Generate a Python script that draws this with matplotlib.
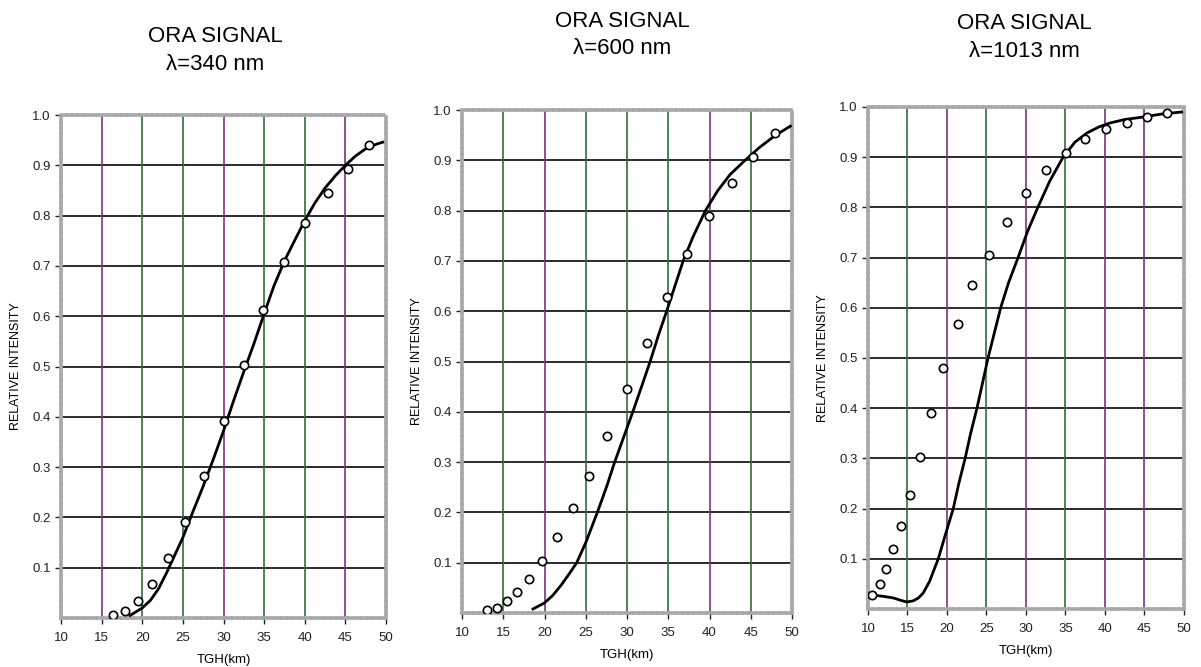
import matplotlib
matplotlib.use('Agg')
import matplotlib.pyplot as plt

plt.rcParams['font.family'] = ['Liberation Sans', 'DejaVu Sans']

# Panel titles
titles = ['ORA SIGNAL', 'ORA SIGNAL', 'ORA SIGNAL']
wavelengths = ['\u03bb=340 nm', '\u03bb=600 nm', '\u03bb=1013 nm']

x340 = [16.4, 17.9, 19.5, 21.2, 23.2, 25.3, 27.6, 30.0, 32.5, 34.9, 37.4, 40.0, 42.8, 45.3, 47.9]
y340 = [0.005, 0.014, 0.034, 0.068, 0.12, 0.19, 0.283, 0.392, 0.503, 0.612, 0.708, 0.785, 0.845, 0.893, 0.94]
x600 = [13.0, 14.2, 15.5, 16.7, 18.1, 19.7, 21.5, 23.5, 25.4, 27.6, 30.0, 32.4, 34.8, 37.3, 39.9, 42.7, 45.3, 47.9]
y600 = [0.006, 0.01, 0.024, 0.042, 0.068, 0.103, 0.151, 0.209, 0.272, 0.352, 0.445, 0.537, 0.628, 0.714, 0.789, 0.855, 0.907, 0.954]
x1013 = [10.5, 11.5, 12.3, 13.2, 14.2, 15.3, 16.6, 18.0, 19.5, 21.4, 23.2, 25.3, 27.6, 30.0, 32.5, 35.1, 37.5, 40.1, 42.8, 45.3, 47.8]
y1013 = [0.028, 0.05, 0.08, 0.12, 0.165, 0.227, 0.303, 0.39, 0.48, 0.568, 0.645, 0.705, 0.771, 0.829, 0.875, 0.908, 0.936, 0.956, 0.968, 0.98, 0.988]

# Model curves (solid line)
cx340 = [18.5, 20.0, 21.0, 22.0, 23.0, 24.0, 25.0, 26.2, 27.5, 28.8, 30.0, 31.2, 32.5, 33.8, 35.0, 36.2, 37.5, 38.8, 40.0, 41.2, 42.5, 43.8, 45.0, 46.2, 47.5, 48.8, 49.6]
cy340 = [0.005, 0.02, 0.035, 0.058, 0.09, 0.125, 0.16, 0.21, 0.262, 0.318, 0.372, 0.43, 0.49, 0.548, 0.605, 0.66, 0.71, 0.752, 0.79, 0.824, 0.855, 0.88, 0.9, 0.918, 0.933, 0.942, 0.946]
cx600 = [18.6, 20.0, 21.0, 22.0, 23.0, 23.9, 25.0, 26.4, 27.5, 28.5, 29.6, 30.7, 31.8, 32.8, 33.8, 34.8, 35.8, 36.8, 38.0, 39.5, 41.0, 42.5, 44.3, 46.0, 48.0, 49.8]
cy600 = [0.008, 0.02, 0.035, 0.055, 0.078, 0.1, 0.14, 0.2, 0.25, 0.3, 0.35, 0.4, 0.452, 0.5, 0.552, 0.6, 0.65, 0.7, 0.748, 0.8, 0.84, 0.872, 0.9, 0.925, 0.95, 0.968]
cx1013 = [10.5, 12.0, 13.2, 14.2, 14.9, 15.7, 16.4, 17.0, 17.8, 18.9, 19.8, 20.8, 21.5, 22.3, 23.0, 23.8, 24.5, 25.2, 26.0, 26.8, 27.8, 29.0, 30.2, 31.5, 33.0, 34.7, 36.2, 37.7, 39.2, 40.6, 42.5, 44.8, 47.2, 49.7]
cy1013 = [0.028, 0.025, 0.022, 0.017, 0.014, 0.016, 0.022, 0.032, 0.055, 0.1, 0.148, 0.2, 0.25, 0.3, 0.35, 0.4, 0.45, 0.5, 0.55, 0.6, 0.65, 0.7, 0.752, 0.8, 0.852, 0.9, 0.93, 0.948, 0.96, 0.968, 0.975, 0.98, 0.986, 0.99]

# Colour of the vertical grid lines at 15..45 (scan shows green / purple)
green = '#2f6e3a'
purple = '#7b3280'
vcolors340 = [purple, green, green, purple, green, green, purple]
vcolors600 = [green, purple, green, green, green, purple, green]
vcolors1013 = [green, purple, green, purple, green, purple, purple]

xticks = [10, 15, 20, 25, 30, 35, 40, 45, 50]
yticks = [0.1, 0.2, 0.3, 0.4, 0.5, 0.6, 0.7, 0.8, 0.9, 1.0]

fig = plt.figure(figsize=(12.01, 6.67), dpi=100)

# axes rectangles in figure fractions, and title anchors (x, y of each line)
rects = [[0.0508, 0.0735, 0.2706, 0.754],
         [0.3847, 0.0810, 0.2748, 0.754],
         [0.7227, 0.0870, 0.2631, 0.7526]]
title_pos = [(0.179, 0.945, 0.903), (0.518, 0.968, 0.927), (0.853, 0.965, 0.923)]

panels = [(x340, y340, cx340, cy340, vcolors340),
          (x600, y600, cx600, cy600, vcolors600),
          (x1013, y1013, cx1013, cy1013, vcolors1013)]

for i, (px, py, cx, cy, vcols) in enumerate(panels):
    ax = fig.add_axes(rects[i])
    ax.set_xlim(10, 50)
    ax.set_ylim(0, 1.0)

    # grid
    for yv in yticks[:-1]:
        ax.axhline(yv, color='#1a1a1a', lw=1.3, zorder=1)
    for xv, col in zip(xticks[1:-1], vcols):
        ax.axvline(xv, color=col, lw=1.2, zorder=1)

    ax.plot(cx, cy, color='black', lw=2.0, zorder=3)
    ax.plot(px, py, linestyle='none', marker='o', markersize=6,
            markerfacecolor='white', markeredgecolor='black', mew=1.2, zorder=4)

    ax.set_xticks(xticks)
    ax.set_yticks(yticks)
    ax.set_yticklabels(['%.1f' % t for t in yticks])
    ax.tick_params(axis='both', labelsize=9.5, length=4, width=1, direction='out',
                   colors='#222222')
    ax.tick_params(axis='x', pad=6)
    for s in ax.spines.values():
        s.set_color('#a8a8a8')
        s.set_linewidth(2.6)
        s.set_linestyle((0, (1, 0.7)))

    ax.set_xlabel('TGH(km)', fontsize=9.5, labelpad=7)
    ax.set_ylabel('RELATIVE INTENSITY', fontsize=9, labelpad=7)

    tx, ty1, ty2 = title_pos[i]
    fig.text(tx, ty1, titles[i], ha='center', va='center', fontsize=16)
    fig.text(tx, ty2, wavelengths[i], ha='center', va='center', fontsize=16)

fig.savefig('out.png', dpi=100)
